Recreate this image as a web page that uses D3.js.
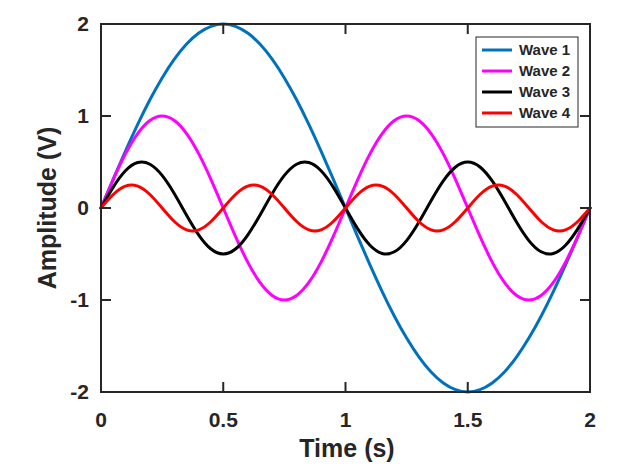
<!DOCTYPE html>
<html>
<head>
<meta charset="utf-8">
<script src="https://cdn.jsdelivr.net/npm/d3@7"></script>
<style>
  html, body { margin: 0; padding: 0; background: #fff; }
  svg { display: block; }
  text { font-family: "Liberation Sans", Arial, Helvetica, sans-serif; font-weight: bold; fill: #262626; }
</style>
</head>
<body>
<svg id="chart" width="636" height="469"></svg>
<script>
// ---- Data ----
const time = [0,0.05,0.1,0.15,0.2,0.25,0.3,0.35,0.4,0.45,0.5,0.55,0.6,0.65,0.7,0.75,0.8,0.85,0.9,0.95,
  1,1.05,1.1,1.15,1.2,1.25,1.3,1.35,1.4,1.45,1.5,1.55,1.6,1.65,1.7,1.75,1.8,1.85,1.9,1.95,2];
const wave1 = [0,0.313,0.618,0.908,1.176,1.414,1.618,1.782,1.902,1.975,2,1.975,1.902,1.782,1.618,1.414,1.176,0.908,0.618,0.313,
  0,-0.313,-0.618,-0.908,-1.176,-1.414,-1.618,-1.782,-1.902,-1.975,-2,-1.975,-1.902,-1.782,-1.618,-1.414,-1.176,-0.908,-0.618,-0.313,0];
const wave2 = [0,0.309,0.588,0.809,0.951,1,0.951,0.809,0.588,0.309,0,-0.309,-0.588,-0.809,-0.951,-1,-0.951,-0.809,-0.588,-0.309,
  0,0.309,0.588,0.809,0.951,1,0.951,0.809,0.588,0.309,0,-0.309,-0.588,-0.809,-0.951,-1,-0.951,-0.809,-0.588,-0.309,0];
const wave3 = [0,0.227,0.405,0.494,0.476,0.354,0.155,-0.078,-0.294,-0.446,-0.5,-0.446,-0.294,-0.078,0.155,0.354,0.476,0.494,0.405,0.227,
  0,-0.227,-0.405,-0.494,-0.476,-0.354,-0.155,0.078,0.294,0.446,0.5,0.446,0.294,0.078,-0.155,-0.354,-0.476,-0.494,-0.405,-0.227,0];
const wave4 = [0,0.147,0.238,0.238,0.147,0,-0.147,-0.238,-0.238,-0.147,0,0.147,0.238,0.238,0.147,0,-0.147,-0.238,-0.238,-0.147,
  0,0.147,0.238,0.238,0.147,0,-0.147,-0.238,-0.238,-0.147,0,0.147,0.238,0.238,0.147,0,-0.147,-0.238,-0.238,-0.147,0];
const seriesNames = ["Wave 1","Wave 2","Wave 3","Wave 4"];
const seriesColors = ["#0072BD","#FF00FF","#000000","#FF0000"];
const xTicks = [0,0.5,1,1.5,2];
const yTicks = [-2,-1,0,1,2];
const xLabel = "Time (s)";
const yLabel = "Amplitude (V)";

// ---- Layout ----
const svg = d3.select("#chart");
const L = 101, R = 590, T = 24, B = 392;
const x = d3.scaleLinear().domain([0,2]).range([L,R]);
const y = d3.scaleLinear().domain([-2,2]).range([B,T]);
const axisColor = "#262626";
const tickLen = 10;

const allSeries = [wave1, wave2, wave3, wave4];

// curves
const line = d3.line().x(d => x(d[0])).y(d => y(d[1])).curve(d3.curveNatural);
allSeries.forEach((vals, i) => {
  const pts = time.map((t, j) => [t, vals[j]]);
  svg.append("path").datum(pts).attr("d", line)
    .attr("fill","none").attr("stroke", seriesColors[i]).attr("stroke-width", 3)
    .attr("stroke-linejoin","round").attr("stroke-linecap","round");
});

// axes box
const g = svg.append("g");
g.append("rect").attr("x", L).attr("y", T).attr("width", R-L).attr("height", B-T)
  .attr("fill","none").attr("stroke", axisColor).attr("stroke-width", 2);

// ticks (inward, all four sides)
xTicks.forEach(v => {
  g.append("line").attr("x1", x(v)).attr("x2", x(v)).attr("y1", B).attr("y2", B - tickLen)
    .attr("stroke", axisColor).attr("stroke-width", 2);
  g.append("line").attr("x1", x(v)).attr("x2", x(v)).attr("y1", T).attr("y2", T + tickLen)
    .attr("stroke", axisColor).attr("stroke-width", 2);
  g.append("text").attr("x", x(v)).attr("y", B + 35).attr("text-anchor","middle")
    .attr("font-size", 21).text(d3.format("")(v));
});
yTicks.forEach(v => {
  g.append("line").attr("x1", L).attr("x2", L + tickLen).attr("y1", y(v)).attr("y2", y(v))
    .attr("stroke", axisColor).attr("stroke-width", 2);
  g.append("line").attr("x1", R).attr("x2", R - tickLen).attr("y1", y(v)).attr("y2", y(v))
    .attr("stroke", axisColor).attr("stroke-width", 2);
  g.append("text").attr("x", L - 12).attr("y", y(v) + 7).attr("text-anchor","end")
    .attr("font-size", 21).text(v);
});

// axis labels
svg.append("text").attr("x", 347).attr("y", 457).attr("text-anchor","middle")
  .attr("font-size", 25).text(xLabel);
svg.append("text").attr("transform", `translate(56,208) rotate(-90)`)
  .attr("text-anchor","middle").attr("font-size", 25).text(yLabel);

// legend
const lg = svg.append("g");
lg.append("rect").attr("x", 476).attr("y", 37).attr("width", 102).attr("height", 90)
  .attr("fill","#fff").attr("stroke", axisColor).attr("stroke-width", 1);
seriesNames.forEach((name, i) => {
  const cy = 50 + i * 21;
  lg.append("line").attr("x1", 482).attr("x2", 512).attr("y1", cy).attr("y2", cy)
    .attr("stroke", seriesColors[i]).attr("stroke-width", 3);
  lg.append("text").attr("x", 519).attr("y", cy + 5).attr("font-size", 15).text(name);
});
</script>
</body>
</html>
